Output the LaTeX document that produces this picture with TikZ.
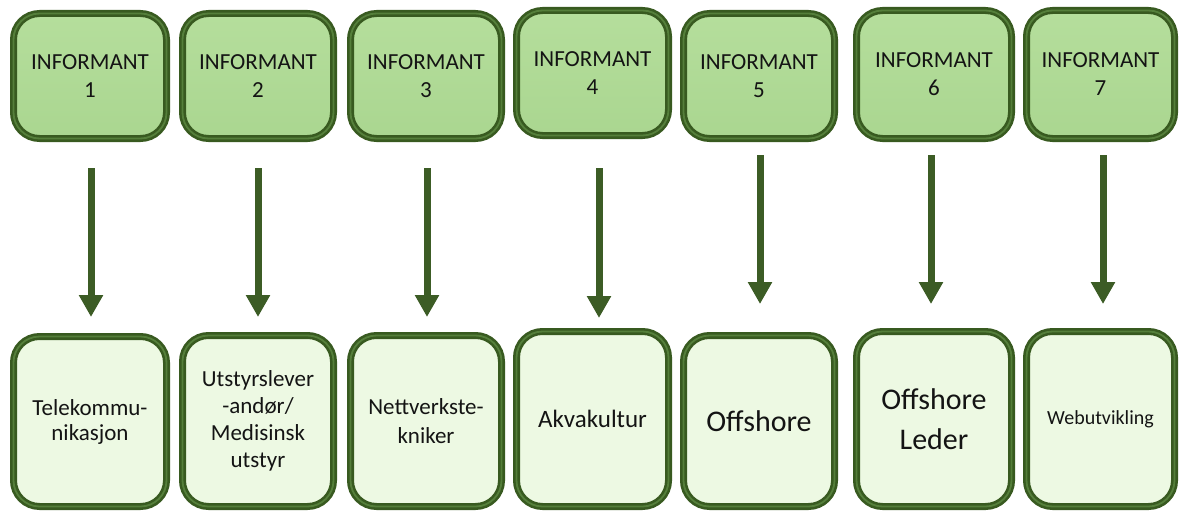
\documentclass[tikz,border=0pt]{standalone}
\usepackage{fontspec}
\setmainfont{Carlito}
\usetikzlibrary{arrows.meta,calc}

\definecolor{rimgreen}{HTML}{385A20}
\definecolor{rimlight}{HTML}{557F3B}
\definecolor{headfill}{HTML}{B5DE9C}
\definecolor{headfilldark}{HTML}{AAD690}
\definecolor{fieldfill}{HTML}{EDF9E3}
\definecolor{arrowgreen}{HTML}{3C5C25}
\definecolor{inktext}{HTML}{141414}

\tikzset{
  tile/.style 2 args={rectangle, rounded corners=26pt, draw=rimgreen,
    line width=7pt, minimum width=#1pt-7pt, minimum height=#2pt-7pt,
    inner sep=0pt, align=center, text=inktext,
    postaction={draw=rimlight, line width=1.8pt}},
  headtile/.style 2 args={tile={#1}{#2}, top color=headfill, bottom color=headfilldark,
    font=\fontsize{23}{28}\selectfont},
  fieldtile/.style 2 args={tile={#1}{#2}, fill=fieldfill},
  flow/.style={draw=arrowgreen, line width=7pt,
    -{Triangle[width=23pt,length=22pt]}}
}

\begin{document}
\begin{tikzpicture}[x=1pt,y=-1pt]
  \useasboundingbox (0,0) rectangle (1180,511);

  % informant tiles
  \node[headtile={160}{132}] (t1) at (90,76)      {INFORMANT\\1};
  \node[headtile={158}{132}] (t2) at (258,76)     {INFORMANT\\2};
  \node[headtile={158}{132}] (t3) at (426,76)     {INFORMANT\\3};
  \node[headtile={159}{132}] (t4) at (592.5,73)   {INFORMANT\\4};
  \node[headtile={158}{132}] (t5) at (759,76)     {INFORMANT\\5};
  \node[headtile={162}{135}] (t6) at (934,74.5)   {INFORMANT\\6};
  \node[headtile={155}{135}] (t7) at (1100.5,74.5){INFORMANT\\7};

  % field tiles
  \node[fieldtile={160}{177}, font=\fontsize{23}{25}\selectfont] (b1) at (90,421.5)
    {Telekommu-\\nikasjon};
  \node[fieldtile={158}{178}, font=\fontsize{23}{27}\selectfont] (b2) at (258,421)
    {Utstyrslever\\-andør/\\Medisinsk\\utstyr};
  \node[fieldtile={158}{178}, font=\fontsize{23}{29}\selectfont] (b3) at (426,421)
    {Nettverkste-\\kniker};
  \node[fieldtile={159}{182}, font=\fontsize{25}{29}\selectfont] (b4) at (592.5,419)
    {Akvakultur};
  \node[fieldtile={158}{178}, font=\fontsize{30}{36}\selectfont] (b5) at (759,421)
    {Offshore};
  \node[fieldtile={162}{182}, font=\fontsize{30}{40}\selectfont] (b6) at (934,419)
    {Offshore\\Leder};
  \node[fieldtile={155}{182}, font=\fontsize{20}{24}\selectfont] (b7) at (1100.5,419)
    {Webutvikling};

  % connectors: index / horizontal offset / gap below tile / gap above field
  \foreach \i/\dx/\s/\e in {1/1/26/16, 2/0/26/15, 3/1/26/15, 4/6.5/29/10,
                            5/1/13/28, 6/-3/13/24, 7/2.5/13/24}
    \draw[flow] ($(t\i.south)+(\dx,\s)$) -- ($(b\i.north)+(\dx,-\e)$);
\end{tikzpicture}
\end{document}
